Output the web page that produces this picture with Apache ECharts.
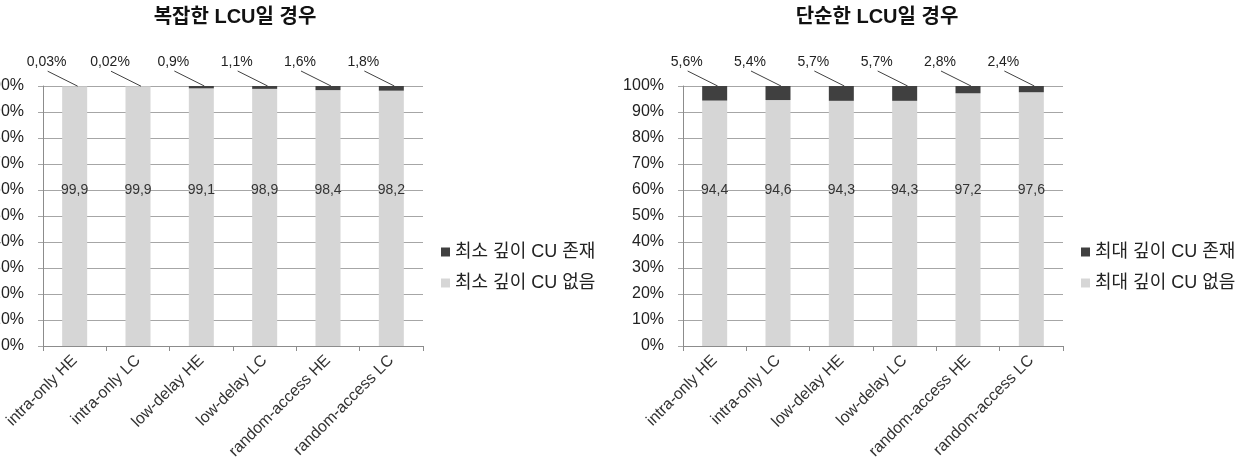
<!DOCTYPE html>
<html>
<head>
<meta charset="utf-8">
<script src="https://cdn.jsdelivr.net/npm/echarts@6/dist/echarts.min.js"></script>
<style>
  html, body { margin: 0; padding: 0; background: #fff; }
  #main { width: 1247px; height: 473px; }
</style>
</head>
<body>
<div id="main"></div>
<script>
// 카테고리 / 데이터
var categories = ['intra-only HE', 'intra-only LC', 'low-delay HE', 'low-delay LC', 'random-access HE', 'random-access LC'];
var yTicks = [0, 10, 20, 30, 40, 50, 60, 70, 80, 90, 100];

// 복잡한 LCU일 경우
var complexExist = [0.03, 0.02, 0.9, 1.1, 1.6, 1.8];
var complexNone = [99.9, 99.9, 99.1, 98.9, 98.4, 98.2];

// 단순한 LCU일 경우
var simpleExist = [5.6, 5.4, 5.7, 5.7, 2.8, 2.4];
var simpleNone = [94.4, 94.6, 94.3, 94.3, 97.2, 97.6];

var FONT = '"Liberation Sans", "Noto Sans CJK KR", sans-serif';
var DARK = '#404040', LIGHT = '#d6d6d6', GRID = '#a6a6a6';

function comma(v) { return String(v).replace('.', ','); }

function xAxisCfg(idx) {
    return {
        type: 'category', gridIndex: idx, data: categories,
        axisLine: {lineStyle: {color: '#8c8c8c'}},
        axisTick: {show: true, length: 5, lineStyle: {color: '#8c8c8c'}},
        axisLabel: {rotate: 45, interval: 0, fontSize: 16, color: '#333', fontFamily: FONT, margin: 12}
    };
}
function yAxisCfg(idx) {
    return {
        type: 'value', gridIndex: idx, min: yTicks[0], max: yTicks[yTicks.length - 1], interval: 10,
        axisLine: {show: true, lineStyle: {color: '#8c8c8c'}},
        axisTick: {show: true, length: 5, lineStyle: {color: GRID}},
        splitLine: {lineStyle: {color: GRID}},
        axisLabel: {formatter: '{value}%', fontSize: 16, color: '#222', fontFamily: FONT, margin: 19}
    };
}
function noneSeries(name, idx, data) {
    return {
        name: name, type: 'bar', stack: 's' + idx, xAxisIndex: idx, yAxisIndex: idx,
        data: data, barWidth: 25, itemStyle: {color: LIGHT},
        label: {
            show: true, position: 'insideBottom', distance: 149,
            formatter: function (p) { return comma(p.value); },
            fontSize: 14, color: '#333', fontFamily: FONT
        }
    };
}
function existSeries(name, idx, data) {
    return {
        name: name, type: 'bar', stack: 's' + idx, xAxisIndex: idx, yAxisIndex: idx,
        data: data, barWidth: 25, itemStyle: {color: DARK}
    };
}

// 위쪽 % 라벨 + 지시선 (엑셀식 leader line)
function leaderItem(params, api) {
    var pt = api.coord([api.value(0), api.value(1)]);
    var cx = pt[0], top = pt[1];
    return {
        type: 'group',
        children: [
            {type: 'line', shape: {x1: cx - 27, y1: top - 15, x2: cx + 3, y2: top},
             style: {stroke: DARK, lineWidth: 1}},
            {type: 'text', x: cx - 28, y: top - 17,
             style: {text: comma(api.value(2)) + '%', align: 'center', verticalAlign: 'bottom',
                     font: '14px ' + FONT, fill: '#222'}}
        ]
    };
}
function leaderSeries(idx, none, exist) {
    var data = exist.map(function (v, i) { return [i, none[i] + v, v]; });
    return {
        name: 'leader' + idx, type: 'custom', xAxisIndex: idx, yAxisIndex: idx,
        data: data, renderItem: leaderItem, silent: true, z: 5
    };
}

var chart = echarts.init(document.getElementById('main'));
chart.setOption({
    backgroundColor: '#fff',
    animation: false,
    title: [
        {text: '복잡한 LCU일 경우', left: 230, top: 2, textAlign: 'center',
         textStyle: {fontSize: 20, fontWeight: 'bold', color: '#111', fontFamily: FONT}},
        {text: '단순한 LCU일 경우', left: 872, top: 2, textAlign: 'center',
         textStyle: {fontSize: 20, fontWeight: 'bold', color: '#111', fontFamily: FONT}}
    ],
    legend: [
        {data: ['최소 깊이 CU 존재', '최소 깊이 CU 없음'], orient: 'vertical', left: 436, top: 238,
         icon: 'rect', itemWidth: 9, itemHeight: 9, itemGap: 13, itemStyle: {borderWidth: 0},
         textStyle: {fontSize: 18, color: '#222', fontFamily: FONT}},
        {data: ['최대 깊이 CU 존재', '최대 깊이 CU 없음'], orient: 'vertical', left: 1076, top: 238,
         icon: 'rect', itemWidth: 9, itemHeight: 9, itemGap: 13, itemStyle: {borderWidth: 0},
         textStyle: {fontSize: 18, color: '#222', fontFamily: FONT}}
    ],
    grid: [
        {left: 43, top: 86, width: 380, height: 260, outerBoundsMode: 'none', containLabel: false},
        {left: 683, top: 86, width: 380, height: 260, outerBoundsMode: 'none', containLabel: false}
    ],
    xAxis: [xAxisCfg(0), xAxisCfg(1)],
    yAxis: [yAxisCfg(0), yAxisCfg(1)],
    series: [
        noneSeries('최소 깊이 CU 없음', 0, complexNone),
        existSeries('최소 깊이 CU 존재', 0, complexExist),
        noneSeries('최대 깊이 CU 없음', 1, simpleNone),
        existSeries('최대 깊이 CU 존재', 1, simpleExist),
        leaderSeries(0, complexNone, complexExist),
        leaderSeries(1, simpleNone, simpleExist)
    ]
});
</script>
</body>
</html>
